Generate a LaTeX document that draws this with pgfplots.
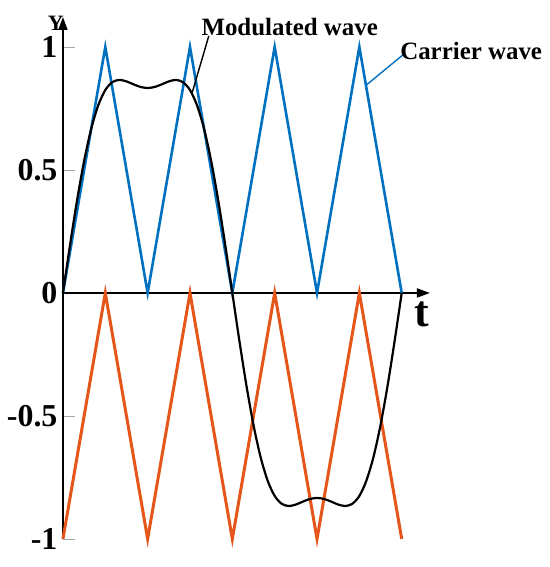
\documentclass[border=0pt]{standalone}
\usepackage{fontspec}
\setmainfont{Liberation Serif}
\usepackage{pgfplots}
\pgfplotsset{compat=1.18}
\usetikzlibrary{arrows.meta}
\definecolor{carrier}{HTML}{0070C0}
\definecolor{lower}{HTML}{E4561A}

\begin{document}
\begin{tikzpicture}
\begin{axis}[
    scale only axis,
    width=367bp, height=522bp,
    xmin=0, xmax=390,
    ymin=-1, ymax=1.122,
    axis x line=middle,
    axis y line=left,
    axis line style={line width=1.8bp, -{Triangle[length=13bp,width=9bp]}},
    xtick=\empty,
    ytick={-1,-0.5,0,0.5,1},
    yticklabels={-1,-0.5,0,0.5,1},
    ytick align=inside,
    major tick length=12bp,
    major tick style={gray!70, line width=0.8bp},
    yticklabel style={font=\fontsize{32}{32}\selectfont\bfseries, xshift=-2bp},
    clip=false,
]
\addplot[carrier, line width=2.6bp] coordinates {
  (0,0) (45,1) (90,0) (135,1) (180,0) (225,1) (270,0) (315,1) (360,0)};
\addplot[lower, line width=3bp] coordinates {
  (0,-1) (45,0) (90,-1) (135,0) (180,-1) (225,0) (270,-1) (315,0) (360,-1)};
\addplot[black, line width=2.2bp, smooth] coordinates {
  (0,0) (7.5,0.1943) (15,0.3767) (22.5,0.5367) (30,0.6667) (37.5,0.7627)
  (45,0.8250) (52.5,0.8571) (60,0.8660) (67.5,0.8601) (75,0.8481) (82.5,0.8375)
  (90,0.8333) (97.5,0.8375) (105,0.8481) (112.5,0.8601) (120,0.8660) (127.5,0.8571)
  (135,0.8250) (142.5,0.7627) (150,0.6667) (157.5,0.5367) (165,0.3767) (172.5,0.1943)
  (180,0) (187.5,-0.1943) (195,-0.3767) (202.5,-0.5367) (210,-0.6667) (217.5,-0.7627)
  (225,-0.8250) (232.5,-0.8571) (240,-0.8660) (247.5,-0.8601) (255,-0.8481) (262.5,-0.8375)
  (270,-0.8333) (277.5,-0.8375) (285,-0.8481) (292.5,-0.8601) (300,-0.8660) (307.5,-0.8571)
  (315,-0.8250) (322.5,-0.7627) (330,-0.6667) (337.5,-0.5367) (345,-0.3767) (352.5,-0.1943)
  (360,0)};
% annotations
\draw[black, line width=1.4bp] (axis cs:155,1.045) -- (axis cs:137,0.81);
\draw[carrier, line width=1.4bp] (axis cs:361,0.967) -- (axis cs:322,0.844);
\node[anchor=base, font=\fontsize{25}{25}\selectfont\bfseries] at (axis cs:241,1.045) {Modulated wave};
\node[anchor=base, font=\fontsize{25}{25}\selectfont\bfseries] at (axis cs:433.8,0.951) {Carrier wave};
\node[anchor=base, font=\fontsize{44}{44}\selectfont\bfseries] at (axis cs:381.2,-0.138) {t};
\node[anchor=base, inner sep=0pt, font=\fontsize{22}{22}\selectfont\bfseries] at (axis cs:-7.5,1.066) {Y};
\coordinate (bl) at (axis cs:-66.9,-1.114);
\coordinate (tr) at (axis cs:517.2,1.191);
\end{axis}
\pgfresetboundingbox
\path[use as bounding box] (bl) rectangle (tr);
\end{tikzpicture}
\end{document}
